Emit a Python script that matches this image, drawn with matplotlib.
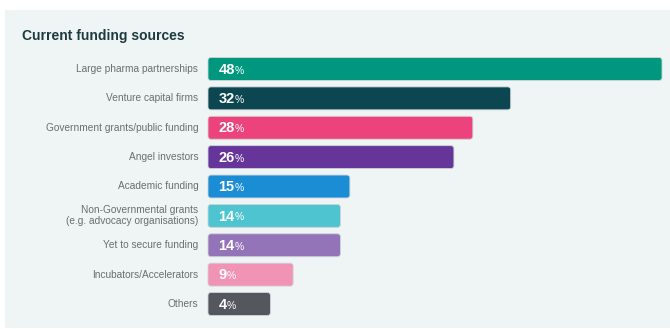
import matplotlib.pyplot as plt
from matplotlib.patches import FancyBboxPatch, Rectangle

# Data
categories = ['Large pharma partnerships', 'Venture capital firms', 'Government grants/public funding',
              'Angel investors', 'Academic funding',
              'Non-Governmental grants\n(e.g. advocacy organisations)',
              'Yet to secure funding', 'Incubators/Accelerators', 'Others']
values = [48, 32, 28, 26, 15, 14, 14, 9, 4]
colors = ['#00977f', '#0c4651', '#ec437c', '#65359a', '#1a8dd5', '#4ec4d1', '#9474b8', '#f193b5', '#55575f']

plt.rcParams['font.family'] = ['Liberation Sans', 'DejaVu Sans']

fig = plt.figure(figsize=(6.7, 3.29), dpi=100)
fig.patch.set_facecolor('white')
# light panel behind the chart
fig.patches.append(Rectangle((5 / 670, 1 - 328 / 329), 665 / 670, 318 / 329,
                             transform=fig.transFigure, facecolor='#eef5f4', edgecolor='none', zorder=-5))

ax = fig.add_axes([208 / 670, 1 - 318.7 / 329, 454 / 670, 264.4 / 329])
ax.set_facecolor('none')
ax.set_zorder(2)

# small minimum width so the tiny bars still fit their label
min_width = 6.6
widths = [max(v, min_width) for v in values]
ypos = list(range(len(values)))
bars = ax.barh(ypos, widths, height=0.78, color=colors)

ax.set_xlim(0, 48)
ax.set_ylim(8.5, -0.5)
ax.axis('off')

# swap plain bars for rounded ones
for b in bars:
    x, y = b.get_x(), b.get_y()
    w, h = b.get_width(), b.get_height()
    b.set_visible(False)
    ax.add_patch(FancyBboxPatch((x, y), w, h, boxstyle='round,pad=0,rounding_size=0.3',
                                mutation_aspect=0.32, facecolor=b.get_facecolor(),
                                edgecolor='#d0d4d6', linewidth=0.6, clip_on=False))

for i, (cat, v) in enumerate(zip(categories, values)):
    ax.annotate(cat, xy=(0, i), xytext=(-7, 0), textcoords='offset points',
                ha='right', va='center', fontsize=7.3, color='#6b6e70', linespacing=1.1)
    t = ax.annotate(str(v), xy=(0, i), xytext=(7.5, -0.5), textcoords='offset points',
                    ha='left', va='center', fontsize=10.5, fontweight='bold', color='white')
    ax.annotate('%', xy=(1, 0.08), xycoords=t, ha='left', va='bottom',
                fontsize=7.5, color='white')

fig.text(22 / 670, 1 - 36 / 329, 'Current funding sources', fontsize=10, fontweight='bold',
         color='#1d3a40', ha='left', va='center')

plt.savefig('out.png', dpi=100)
